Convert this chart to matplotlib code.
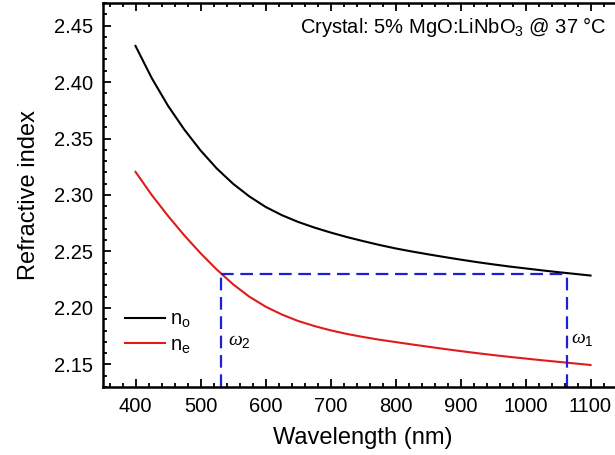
import matplotlib
matplotlib.use("Agg")
import matplotlib.pyplot as plt
from matplotlib.ticker import MultipleLocator, FormatStrFormatter

plt.rcParams["font.family"] = ["Liberation Sans", "DejaVu Sans"]
plt.rcParams["mathtext.fontset"] = "custom"
plt.rcParams["mathtext.rm"] = "Liberation Sans"
plt.rcParams["mathtext.it"] = "Liberation Serif:italic"
plt.rcParams["mathtext.default"] = "regular"

# Valores
longitud_onda = [400, 425, 450, 475, 500, 525, 550, 575, 600, 625, 650, 675, 700, 725, 750,
                 775, 800, 825, 850, 875, 900, 925, 950, 975, 1000, 1025, 1050, 1075, 1100]
n_o = [2.4320, 2.4035, 2.3790, 2.3580, 2.3395, 2.3235, 2.3100, 2.2988, 2.2895, 2.2822,
       2.2762, 2.2712, 2.2668, 2.2628, 2.2592, 2.2558, 2.2527, 2.2500, 2.2475, 2.2451,
       2.2428, 2.2406, 2.2386, 2.2367, 2.2350, 2.2333, 2.2317, 2.2302, 2.2287]
n_e = [2.3205, 2.3000, 2.2815, 2.2643, 2.2485, 2.2340, 2.2210, 2.2100, 2.2012, 2.1942,
       2.1885, 2.1840, 2.1802, 2.1770, 2.1743, 2.1719, 2.1698, 2.1677, 2.1657, 2.1637,
       2.1618, 2.1600, 2.1583, 2.1567, 2.1552, 2.1537, 2.1523, 2.1509, 2.1495]

lambda_2 = 532
lambda_1 = 1064
n_pm = 2.23
y_min, y_max = 2.13, 2.47

fig = plt.figure(figsize=(6.15, 4.55), dpi=100)
ax = fig.add_axes([103 / 615, 68 / 455, 520 / 615, 384 / 455])

ax.plot(longitud_onda, n_o, color="black", lw=1.5, label=r"n$_o$")
ax.plot(longitud_onda, n_e, color="#e01b1b", lw=1.5, label=r"n$_e$")

# Líneas de ajuste de fase
estilo = dict(color="#1f1fd6", lw=1.6, dashes=(5.7, 3))
ax.plot([lambda_2, lambda_1], [n_pm, n_pm], **estilo)
ax.plot([lambda_2, lambda_2], [y_min, n_pm], **estilo)
ax.plot([lambda_1, lambda_1], [y_min, n_pm], **estilo)

ax.text(lambda_2 + 10, 2.17, r"$\mathit{\omega}_2$", fontsize=14, va="center")
ax.text(lambda_1 + 6, 2.172, r"$\mathit{\omega}_1$", fontsize=14, va="center")

ax.text(1125, 2.449, r"Crystal: 5% MgO:LiNbO$_3$ @ 37 °C", fontsize=14.5,
        ha="right", va="center")

ax.set_xlim(350, 1150)
ax.set_ylim(y_min, y_max)
ax.xaxis.set_major_locator(MultipleLocator(100))
ax.xaxis.set_minor_locator(MultipleLocator(20))
ax.yaxis.set_major_locator(MultipleLocator(0.05))
ax.yaxis.set_minor_locator(MultipleLocator(0.01))
ax.yaxis.set_major_formatter(FormatStrFormatter("%.2f"))
ax.tick_params(which="both", direction="in", top=True, right=True, labelsize=14.5, width=1.3)
ax.tick_params(which="major", length=6, pad=7)
ax.tick_params(which="minor", length=3)
for s in ax.spines.values():
    s.set_linewidth(1.8)

ax.set_xlabel("Wavelength (nm)", fontsize=17, labelpad=8)
ax.set_ylabel("Refractive index", fontsize=17, labelpad=10)

ax.legend(loc="center left", bbox_to_anchor=(0.027, 0.141), borderaxespad=0, frameon=False,
          fontsize=14.5, handlelength=2.0, handletextpad=0.25, labelspacing=0.25)

fig.savefig("out.png", dpi=100)
